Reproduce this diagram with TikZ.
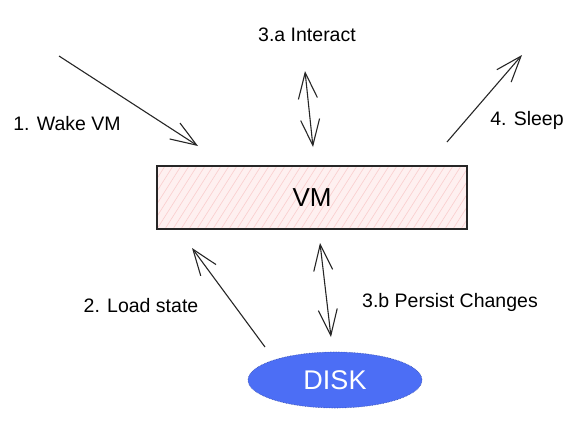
\documentclass[tikz,border=0pt]{standalone}
\usepackage{fontspec}
\setmainfont{Liberation Sans}
\usetikzlibrary{arrows.meta,shapes.geometric}
\definecolor{vmfill}{RGB}{254,240,240}
\definecolor{vmhatch}{RGB}{250,205,205}
\definecolor{diskblue}{RGB}{76,110,245}
\tikzset{
  barb/.tip={Straight Barb[length=26pt,width=19pt,line width=1.1pt]},
  lbl/.style={font=\fontsize{19.5}{22}\selectfont, anchor=base, inner sep=0pt},
  conn/.style={line width=1.1pt, draw=black!85, -barb},
  conn2/.style={line width=1.1pt, draw=black!85, barb-barb},
  vmbox/.style={draw=black!85, line width=1.3pt, minimum width=310pt, minimum height=63pt, inner sep=0pt, font=\fontsize{26}{30}\selectfont},
  diskell/.style={ellipse, fill=diskblue, draw=diskblue!70!black, densely dotted, line width=0.6pt, minimum width=174pt, minimum height=56pt, inner sep=0pt, text=white, font=\fontsize{27}{30}\selectfont}
}
\begin{document}
\begin{tikzpicture}[x=1pt,y=-1pt]
\useasboundingbox (0,0) rectangle (574,421);
% VM box
\node[vmbox, fill=vmfill] (vm) at (312,197.5) {};
\begin{scope}
  \clip (vm.south west) rectangle (vm.north east);
  \foreach \i in {0,8,...,400} {
    \draw[vmhatch, line width=0.6pt] (157+\i-40,229) -- (157+\i,166);
  }
\end{scope}
\node[vmbox] (vmlabel) at (312,197.5) {VM};
% disk
\node[diskell] (disk) at (335,380) {DISK};
% coordinates
\coordinate (wakeS) at (59,56);
\coordinate (wakeE) at (198,146);
\coordinate (loadS) at (265,347);
\coordinate (loadE) at (192,248);
\coordinate (intA) at (305,71);
\coordinate (intB) at (313,147);
\coordinate (persA) at (320,243);
\coordinate (persB) at (331,337);
\coordinate (sleepS) at (447,142);
\coordinate (sleepE) at (522,55);
% connectors
\draw[conn] (wakeS) -- (wakeE);
\draw[conn] (loadS) -- (loadE);
\draw[conn2] (intA) -- (intB);
\draw[conn2] (persA) -- (persB);
\draw[conn] (sleepS) -- (sleepE);
% labels
\node[lbl] (l1) at (67,130) {1. Wake VM};
\node[lbl] (l2) at (141,312) {2. Load state};
\node[lbl] (l3a) at (307,41) {3.a Interact};
\node[lbl] (l3b) at (450,307) {3.b Persist Changes};
\node[lbl] (l4) at (527,125) {4. Sleep};
\end{tikzpicture}
\end{document}
